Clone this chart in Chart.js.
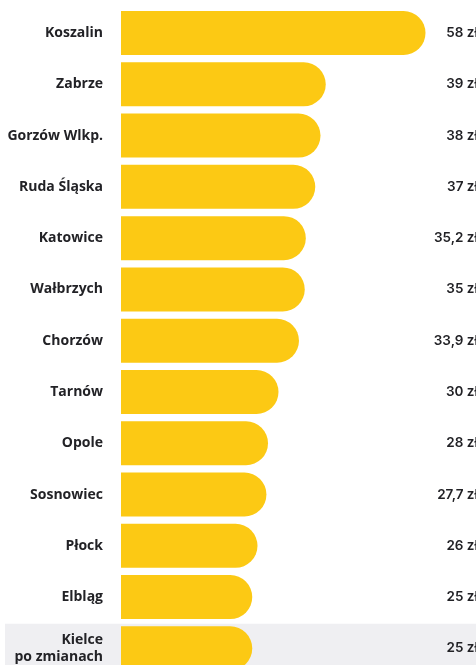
<!DOCTYPE html>
<html>
<head>
<meta charset="utf-8">
<script src="https://cdn.jsdelivr.net/npm/chart.js@4"></script>
<style>
  html, body { margin: 0; padding: 0; background: #fff; }
  #frame { width: 476px; height: 665px; overflow: hidden; }
  #box { position: relative; width: 476px; height: 680px; }
</style>
</head>
<body>
<div id="frame"><div id="box"><canvas id="barchart"></canvas></div></div>
<script>
const cities = [
  "Koszalin", "Zabrze", "Gorzów Wlkp.", "Ruda Śląska", "Katowice", "Wałbrzych",
  "Chorzów", "Tarnów", "Opole", "Sosnowiec", "Płock", "Elbląg", ["Kielce", "po zmianach"]
];
const prices = [58, 39, 38, 37, 35.2, 35, 33.9, 30, 28, 27.7, 26, 25, 25];
const highlightIndex = 12;

const barColor = "#fcc914";
const textColor = "#222226";

const rowHighlight = {
  id: "rowHighlight",
  beforeDraw(chart) {
    const y = chart.scales.y;
    const band = (chart.chartArea.bottom - chart.chartArea.top) / cities.length;
    const mid = y.getPixelForValue(highlightIndex);
    const c = chart.ctx;
    c.save();
    c.fillStyle = "#efeff2";
    c.fillRect(5, mid - band / 2 + 1, chart.width - 5, band);
    c.restore();
  },
};

const valueLabels = {
  id: "valueLabels",
  afterDatasetsDraw(chart) {
    const c = chart.ctx;
    const meta = chart.getDatasetMeta(0);
    c.save();
    c.font = "600 13.5px Inter";
    c.fillStyle = textColor;
    c.textAlign = "right";
    c.textBaseline = "middle";
    meta.data.forEach((bar, i) => {
      const txt = String(prices[i]).replace(".", ",") + " zł";
      c.fillText(txt, chart.width + 2, bar.y);
    });
    c.restore();
  },
};

const ctx = document.getElementById("barchart");

new Chart(ctx, {
  type: "bar",
  data: {
    labels: cities,
    datasets: [
      {
        data: prices,
        backgroundColor: barColor,
        borderRadius: 30,
        borderSkipped: "start",
        categoryPercentage: 1,
        barPercentage: 0.858,
      },
    ],
  },
  options: {
    indexAxis: "y",
    responsive: true,
    maintainAspectRatio: false,
    animation: false,
    layout: { padding: { top: 7.4, bottom: 6, left: 0, right: 40 } },
    plugins: {
      legend: { display: false },
      tooltip: { enabled: false },
    },
    scales: {
      x: {
        display: false,
        min: 0,
        max: 60,
      },
      y: {
        afterFit(scale) {
          scale.width = 121;
          scale.paddingTop = 0;
          scale.paddingBottom = 0;
        },
        border: { display: false },
        grid: { display: false, drawTicks: false },
        ticks: {
          padding: 18,
          color: textColor,
          font: { family: "'Open Sans'", weight: "700", size: 14 },
        },
      },
    },
  },
  plugins: [rowHighlight, valueLabels],
});
</script>
</body>
</html>
